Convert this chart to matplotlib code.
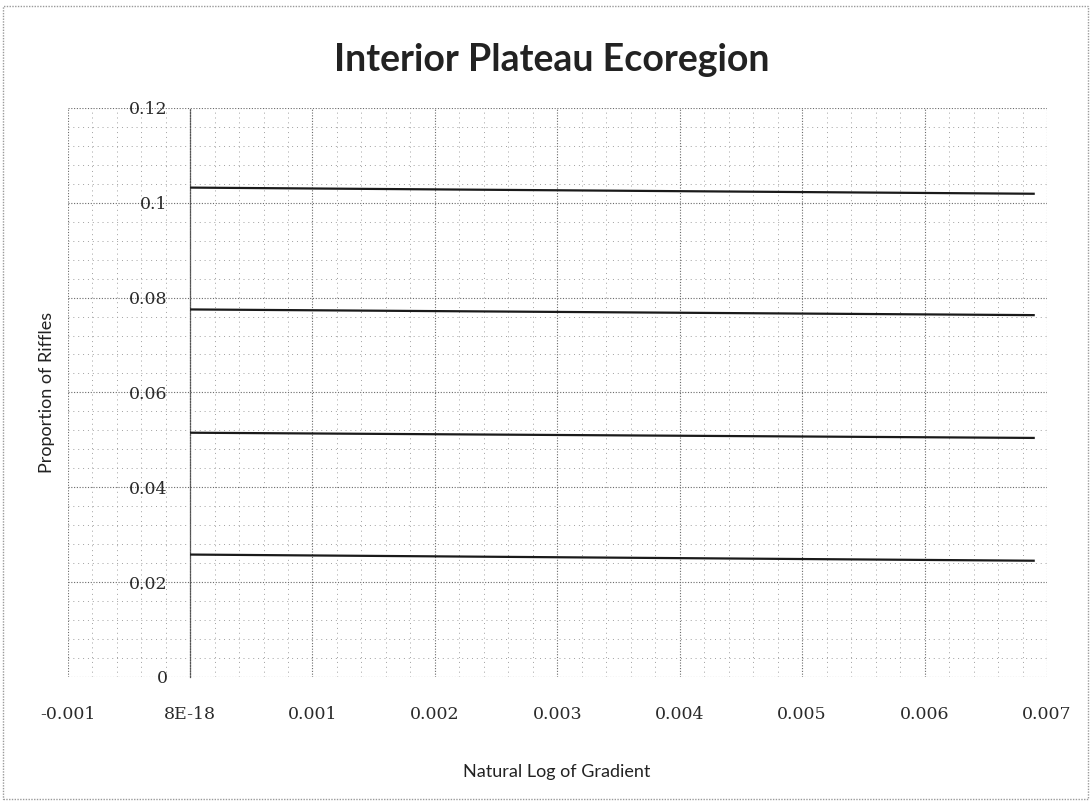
import numpy as np
import matplotlib.pyplot as plt
from matplotlib.patches import Rectangle
from matplotlib.ticker import MultipleLocator

# values
x_ticks = [-0.001, 0.0, 0.001, 0.002, 0.003, 0.004, 0.005, 0.006, 0.007]
x_tick_labels = ["-0.001", "8E-18", "0.001", "0.002", "0.003", "0.004", "0.005", "0.006", "0.007"]
y_ticks = [0.0, 0.02, 0.04, 0.06, 0.08, 0.10, 0.12]
y_tick_labels = ["0", "0.02", "0.04", "0.06", "0.08", "0.1", "0.12"]

line_x = [0.0, 0.0069]
line_1 = [0.1032, 0.1019]
line_2 = [0.0775, 0.0763]
line_3 = [0.0515, 0.0504]
line_4 = [0.0258, 0.0245]


def main():
    fig = plt.figure(figsize=(10.91, 8.02), dpi=100)
    ax = fig.add_axes([0.062, 0.156, 0.8977, 0.7094])

    # outer chart frame
    fig.patches.append(Rectangle((0.003, 0.004), 0.994, 0.989, transform=fig.transFigure,
                                 fill=False, edgecolor="#9a9a9a", lw=1.0, ls=(0, (1, 1))))

    for yy in [line_1, line_2, line_3, line_4]:
        ax.plot(line_x, yy, color="#1a1a1a", lw=1.6, solid_capstyle="butt", zorder=3)

    ax.set_xlim(-0.001, 0.007)
    ax.set_ylim(0, 0.12)
    ax.set_xticks(x_ticks)
    ax.set_xticklabels(x_tick_labels)
    ax.set_yticks(y_ticks)
    ax.set_yticklabels(y_tick_labels)
    ax.xaxis.set_minor_locator(MultipleLocator(0.0002))
    ax.yaxis.set_minor_locator(MultipleLocator(0.004))

    # dotted grid like the scan
    ax.grid(True, which="major", color="#6a6a6a", lw=0.8, ls=(0, (1, 1.5)))
    ax.grid(True, which="minor", color="#a0a0a0", lw=0.7, ls=(0, (1, 4)))
    ax.set_axisbelow(True)

    for s in ["top", "right", "bottom"]:
        ax.spines[s].set_visible(False)
    ax.spines["left"].set_position(("data", 0))
    ax.spines["left"].set_color("#555555")
    ax.spines["left"].set_linestyle((0, (1, 1.2)))
    ax.spines["left"].set_linewidth(0.9)

    ax.tick_params(axis="both", which="both", length=0)
    ax.tick_params(axis="y", pad=16)
    ax.tick_params(axis="x", pad=21)
    for t in ax.get_xticklabels() + ax.get_yticklabels():
        t.set_fontfamily("DejaVu Serif")
        t.set_fontsize(12.5)
        t.set_color("#2a2a2a")

    fig.text(0.506, 1 - 70.7 / 802, "Interior Plateau Ecoregion", ha="center", va="baseline",
             fontsize=27, fontweight="bold", family="Lato", color="#222222")
    fig.text(47 / 1091, 1 - 392 / 802, "Proportion of Riffles", ha="center", va="center",
             rotation=90, fontsize=13, family="Lato", color="#222222")
    fig.text(557 / 1091, 1 - 772 / 802, "Natural Log of Gradient", ha="center", va="center",
             fontsize=13, family="Lato", color="#222222")

    fig.savefig("out.png", dpi=100)


main()
